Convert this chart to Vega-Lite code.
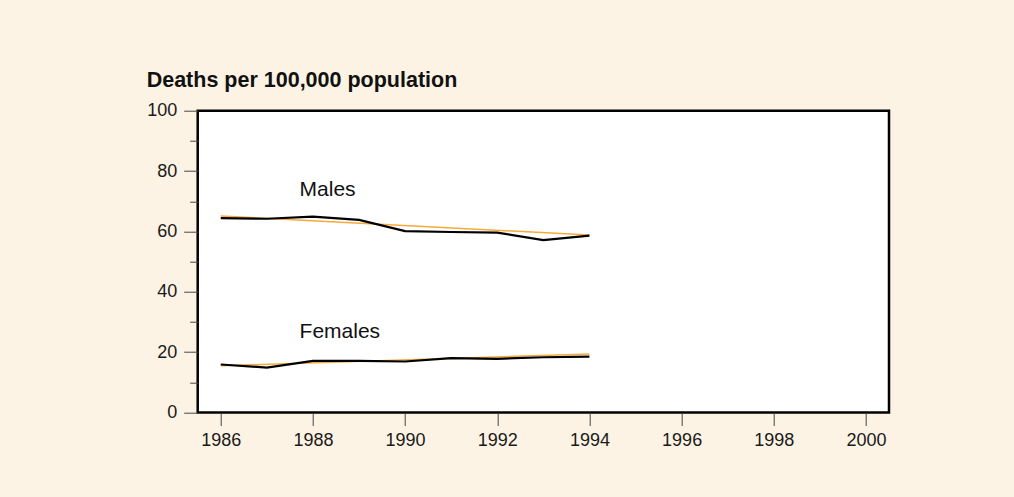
{
  "$schema": "https://vega.github.io/schema/vega-lite/v6.json",
  "autosize": "none",
  "width": 691.3,
  "height": 301.8,
  "padding": {"left": 197.7, "top": 110.7, "right": 125, "bottom": 84.5},
  "background": "#FDF3E4",
  "view": {"stroke": "#000000", "strokeWidth": 2.5, "fill": "#FFFFFF"},
  "config": {"font": "Liberation Sans"},
  "title": {
    "text": "Deaths per 100,000 population",
    "anchor": "start",
    "frame": "bounds",
    "font": "Liberation Sans",
    "fontSize": 21.5,
    "fontWeight": "bold",
    "color": "#111111",
    "offset": 10
  },
  "datasets": {
    "rates": [
      {"year": 1986, "sex": "Males", "rate": 64.4},
      {"year": 1987, "sex": "Males", "rate": 64.2},
      {"year": 1988, "sex": "Males", "rate": 64.9},
      {"year": 1989, "sex": "Males", "rate": 63.8},
      {"year": 1990, "sex": "Males", "rate": 60.1},
      {"year": 1991, "sex": "Males", "rate": 59.8},
      {"year": 1992, "sex": "Males", "rate": 59.6},
      {"year": 1993, "sex": "Males", "rate": 57.1},
      {"year": 1994, "sex": "Males", "rate": 58.6},
      {"year": 1986, "sex": "Females", "rate": 15.9},
      {"year": 1987, "sex": "Females", "rate": 14.9},
      {"year": 1988, "sex": "Females", "rate": 17.1},
      {"year": 1989, "sex": "Females", "rate": 17.1},
      {"year": 1990, "sex": "Females", "rate": 16.9},
      {"year": 1991, "sex": "Females", "rate": 18.0},
      {"year": 1992, "sex": "Females", "rate": 17.8},
      {"year": 1993, "sex": "Females", "rate": 18.3},
      {"year": 1994, "sex": "Females", "rate": 18.5}
    ],
    "trend": [
      {"year": 1986, "sex": "Males", "rate": 65.1},
      {"year": 1994, "sex": "Males", "rate": 58.8},
      {"year": 1986, "sex": "Females", "rate": 15.5},
      {"year": 1994, "sex": "Females", "rate": 19.4}
    ],
    "labels": [
      {"year": 1987.71, "rate": 71.8, "label": "Males"},
      {"year": 1987.71, "rate": 24.6, "label": "Females"}
    ]
  },
  "encoding": {
    "x": {"field": "year", "type": "quantitative", "scale": {"domain": [1985.5, 2000.5], "nice": false, "zero": false},
      "axis": {"values": [1986, 1988, 1990, 1992, 1994, 1996, 1998, 2000], "format": "d", "tickSize": 13, "tickColor": "#444444", "tickWidth": 1, "domain": false, "grid": false, "title": null, "labelFontSize": 18, "labelColor": "#1a1a1a", "labelPadding": 6, "labelFont": "Liberation Sans"}}
  },
  "layer": [
    {
      "data": {"name": "trend"},
      "mark": {"type": "line", "color": "#F8A93A", "strokeWidth": 1.5},
      "encoding": {
        "y": {"field": "rate", "type": "quantitative", "scale": {"domain": [0, 100], "nice": false},
          "axis": {"orient": "left", "values": [10, 30, 50, 70, 90], "labels": false, "tickSize": 8, "tickColor": "#444444", "tickWidth": 1, "domain": false, "grid": false, "title": null}},
        "detail": {"field": "sex"}
      }
    },
    {
      "data": {"name": "rates"},
      "mark": {"type": "line", "color": "#000000", "strokeWidth": 2.2},
      "encoding": {
        "y": {"field": "rate", "type": "quantitative", "scale": {"domain": [0, 100], "nice": false},
          "axis": {"orient": "left", "values": [0, 20, 40, 60, 80, 100], "tickSize": 14, "tickColor": "#444444", "tickWidth": 1, "domain": false, "grid": false, "title": null, "labelFontSize": 18, "labelColor": "#1a1a1a", "labelPadding": 7, "labelFont": "Liberation Sans"}},
        "detail": {"field": "sex"}
      }
    },
    {
      "data": {"name": "labels"},
      "mark": {"type": "text", "align": "left", "baseline": "alphabetic", "fontSize": 21, "font": "Liberation Sans", "color": "#111111"},
      "encoding": {
        "y": {"field": "rate", "type": "quantitative", "axis": null},
        "text": {"field": "label"}
      }
    }
  ],
  "resolve": {"axis": {"y": "independent"}}
}
